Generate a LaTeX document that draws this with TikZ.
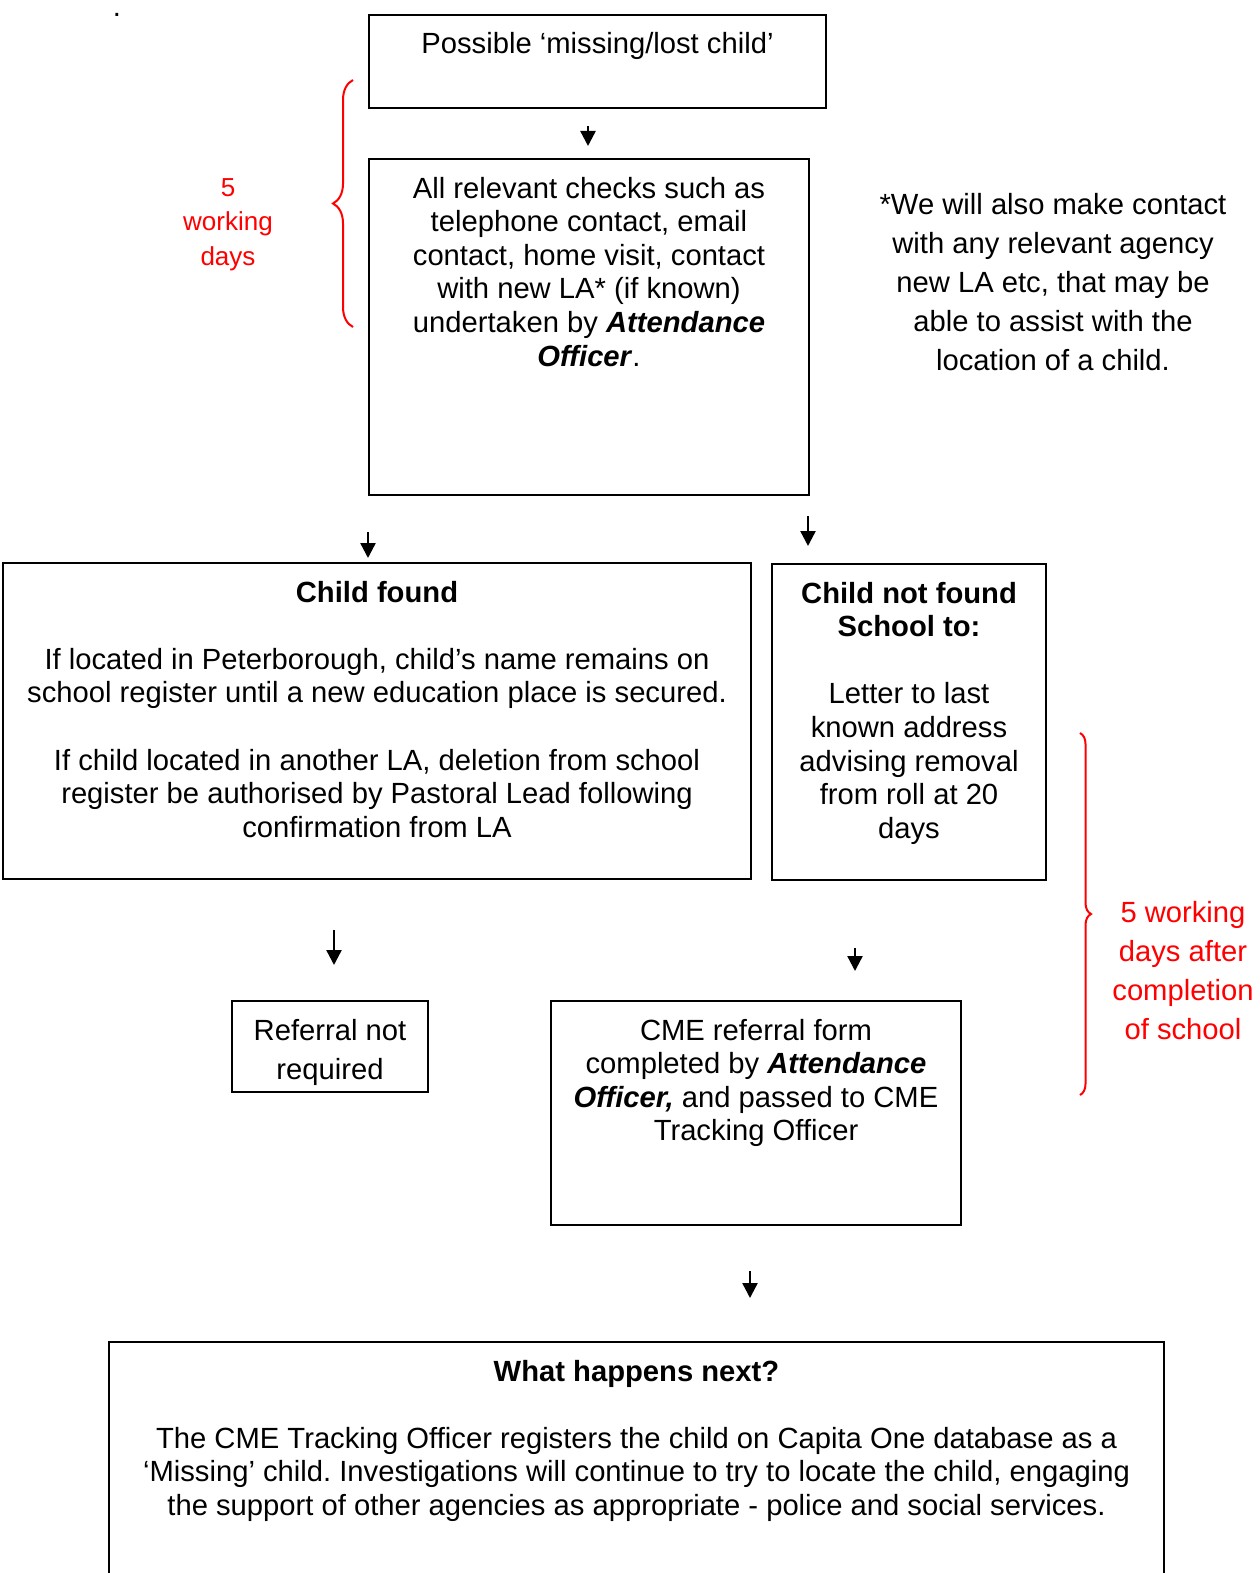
\documentclass[tikz,border=0pt]{standalone}
\usepackage{fontspec}
\setmainfont{Liberation Sans}
\usetikzlibrary{arrows.meta, decorations.pathreplacing}
\frenchspacing
\newlength{\unitpx}
\setlength{\unitpx}{0.5pt}
\newcommand{\loosefont}{\fontsize{14.6}{19.5}\selectfont}
\newcommand{\bracefont}{\fontsize{13}{17.25}\selectfont}
\newcommand{\boxtext}[4][]{\parbox[c][#3\unitpx][t]{#2\unitpx}{#1\centering\rule{0pt}{19.5pt}#4}}
\tikzstyle{arrow} = [line width=1.2pt,-{Triangle[length=7.5pt,width=7.5pt]}]
\tikzstyle{flowbox} = [draw=black,line width=1pt,inner sep=0pt,anchor=north west]
\tikzstyle{note} = [inner sep=0pt,anchor=north]
\tikzstyle{rednote} = [note,text=red]
\tikzstyle{redbrace} = [draw=red,line width=1pt,decorate]

\begin{document}
\begin{tikzpicture}[x=0.5pt,y=-0.5pt,font=\fontsize{14.6}{16.8}\selectfont]
    \useasboundingbox (0,0) rectangle (1259,1573);
    \clip (0,0) rectangle (1259,1573);

    \node[anchor=base,inner sep=0pt] (dot) at (117,17) {.};

    % boxes
    \node[flowbox] (lost) at (368,14) {\boxtext{457}{93}{Possible ‘missing/lost child’}};
    \node[flowbox] (checks) at (368,158) {\boxtext{440}{336}{All relevant checks such as\\
        telephone contact, email\\ contact, home visit, contact\\ with new LA* (if known)\\
        undertaken by \textbf{\textit{Attendance}}\\ \textbf{\textit{Officer}}.}};
    \node[flowbox] (found) at (2,562) {\boxtext{748}{316}{\textbf{Child found}\\[\baselineskip]
        If located in Peterborough, child’s name remains on\\
        school register until a new education place is secured.\\[\baselineskip]
        If child located in another LA, deletion from school\\
        register be authorised by Pastoral Lead following\\ confirmation from LA}};
    \node[flowbox] (notfound) at (771,563) {\boxtext{274}{316}{\textbf{Child not found}\\
        \textbf{School to:}\\[\baselineskip] Letter to last\\ known address\\
        advising removal\\ from roll at 20\\ days}};
    \node[flowbox] (noref) at (231,1000) {\boxtext[\loosefont]{196}{91}{Referral not\\ required}};
    \node[flowbox] (cme) at (550,1000) {\boxtext{410}{224}{CME referral form\\
        completed by \textbf{\textit{Attendance}}\\ \textbf{\textit{Officer,}} and passed to CME\\
        Tracking Officer}};
    \node[flowbox] (next) at (108,1341) {\boxtext{1055}{290}{\textbf{What happens next?}\\[\baselineskip]
        The CME Tracking Officer registers the child on Capita One database as a\\
        ‘Missing’ child. Investigations will continue to try to locate the child, engaging\\
        the support of other agencies as appropriate - police and social services.}};

    % side notes
    \node[note] (agency) at (1053,175) {\boxtext[\loosefont]{380}{200}{*We will also make contact\\
        with any relevant agency\\ new LA etc, that may be\\ able to assist with the\\
        location of a child.}};
    \node[rednote] (days1) at (228,157) {\boxtext[\bracefont]{120}{120}{5\\ working\\ days}};
    \node[rednote] (days2) at (1183,883) {\boxtext[\loosefont]{170}{170}{5 working\\
        days after\\ completion\\ of school}};

    % braces
    \coordinate (b1s) at (353,327);
    \coordinate (b1e) at (353,80);
    \coordinate (b2s) at (1080,733);
    \coordinate (b2e) at (1080,1095);
    \draw[redbrace,decoration={brace,amplitude=10pt}] (b1s) -- (b1e);
    \draw[redbrace,decoration={brace,amplitude=5.5pt}] (b2s) -- (b2e);

    % arrows
    \coordinate (a1s) at (588,126);
    \coordinate (a1e) at (588,146);
    \coordinate (a2s) at (368,532);
    \coordinate (a2e) at (368,558);
    \coordinate (a3s) at (808,516);
    \coordinate (a3e) at (808,546);
    \coordinate (a4s) at (334,930);
    \coordinate (a4e) at (334,965);
    \coordinate (a5s) at (855,948);
    \coordinate (a5e) at (855,971);
    \coordinate (a6s) at (750,1271);
    \coordinate (a6e) at (750,1298);
    \draw[arrow] (a1s) -- (a1e);
    \draw[arrow] (a2s) -- (a2e);
    \draw[arrow] (a3s) -- (a3e);
    \draw[arrow] (a4s) -- (a4e);
    \draw[arrow] (a5s) -- (a5e);
    \draw[arrow] (a6s) -- (a6e);
\end{tikzpicture}
\end{document}
